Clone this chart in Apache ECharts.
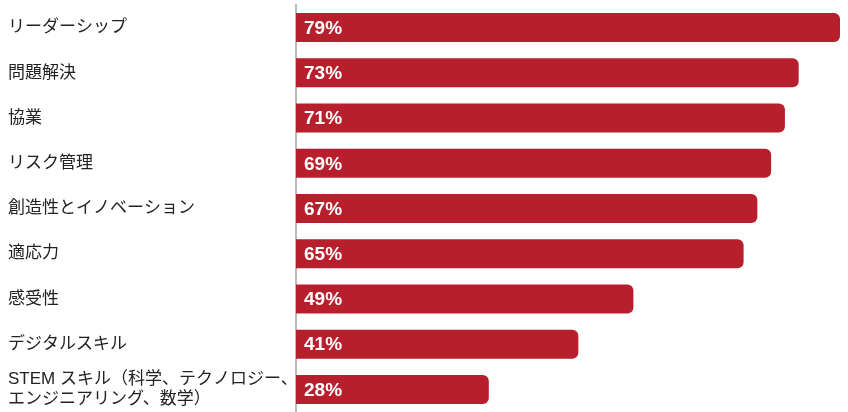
<!DOCTYPE html>
<html>
<head>
<meta charset="utf-8">
<script src="https://cdn.jsdelivr.net/npm/echarts@6/dist/echarts.min.js"></script>
<style>
  html, body { margin: 0; padding: 0; background: #fff; }
  #chart { width: 848px; height: 412px; }
</style>
</head>
<body>
<div id="chart"></div>
<script>
const categories = [
    'リーダーシップ',
    '問題解決',
    '協業',
    'リスク管理',
    '創造性とイノベーション',
    '適応力',
    '感受性',
    'デジタルスキル',
    'STEM スキル（科学、テクノロジー、\nエンジニアリング、数学）'
];
const values = [79, 73, 71, 69, 67, 65, 49, 41, 28];

const font = '"Liberation Sans", "Noto Sans CJK JP", sans-serif';

document.addEventListener('DOMContentLoaded', function () {
    const myChart = echarts.init(document.getElementById('chart'));

    const option = {
        animation: false,
        grid: { left: 296, right: 8, top: 5, bottom: -1, containLabel: false },
        xAxis: {
            type: 'value',
            min: 0,
            max: 79,
            show: false
        },
        yAxis: {
            type: 'category',
            data: categories,
            inverse: true,
            axisLine: { show: true, lineStyle: { color: '#bfb7b1', width: 2 } },
            axisTick: { show: false },
            axisLabel: {
                align: 'left',
                margin: 288,
                color: '#222',
                fontSize: 17,
                lineHeight: 20,
                fontFamily: font,
                padding: [5, 0, 0, 0]
            }
        },
        series: [{
            type: 'bar',
            data: values,
            barWidth: 29,
            itemStyle: { color: '#b81f2d', borderRadius: [0, 6, 6, 0] },
            label: {
                show: true,
                position: 'insideLeft',
                offset: [3, 1],
                formatter: '{c}%',
                color: '#fff',
                fontWeight: 'bold',
                fontSize: 19,
                fontFamily: font
            }
        }]
    };

    myChart.setOption(option);
});
</script>
</body>
</html>
